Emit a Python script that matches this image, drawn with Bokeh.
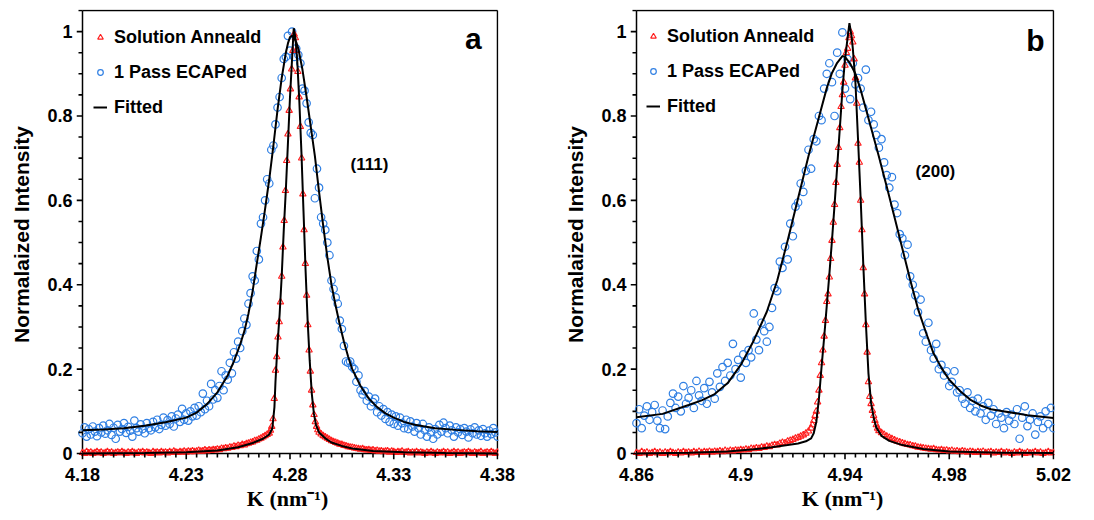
from bokeh.plotting import figure
from bokeh.layouts import row
from bokeh.models import FixedTicker, Legend, LegendItem, Label, Range1d
from bokeh.embed import file_html
from bokeh.resources import INLINE

# ---------------- Panel a : (111) ----------------
a_red_x = [4.180, 4.181, 4.182, 4.183, 4.184, 4.185, 4.186, 4.187, 4.188, 4.189,
           4.190, 4.191, 4.192, 4.193, 4.194, 4.195, 4.196, 4.197, 4.198, 4.199,
           4.200, 4.201, 4.202, 4.203, 4.204, 4.205, 4.206, 4.207, 4.208, 4.209,
           4.210, 4.211, 4.212, 4.213, 4.214, 4.215, 4.216, 4.217, 4.218, 4.219,
           4.220, 4.221, 4.222, 4.223, 4.224, 4.225, 4.226, 4.227, 4.228, 4.229,
           4.230, 4.231, 4.232, 4.233, 4.234, 4.235, 4.236, 4.237, 4.238, 4.239,
           4.240, 4.241, 4.242, 4.243, 4.244, 4.245, 4.246, 4.247, 4.248, 4.249,
           4.250, 4.251, 4.252, 4.253, 4.254, 4.255, 4.256, 4.257, 4.258, 4.259,
           4.260, 4.261, 4.262, 4.263, 4.264, 4.265, 4.266, 4.267, 4.268, 4.269,
           4.2700, 4.2706, 4.2712, 4.2718, 4.2724, 4.2730, 4.2736, 4.2742, 4.2748, 4.2754,
           4.2760, 4.2766, 4.2772, 4.2778, 4.2784, 4.2790, 4.2796, 4.2802, 4.2808, 4.2814,
           4.2820, 4.2826, 4.2832, 4.2838, 4.2844, 4.2850, 4.2856, 4.2862, 4.2868, 4.2874,
           4.2880, 4.2886, 4.2892, 4.2898, 4.2904, 4.2910, 4.2916, 4.2922, 4.2928, 4.2934,
           4.294, 4.295, 4.296, 4.297, 4.298, 4.299, 4.300, 4.301, 4.302, 4.303,
           4.304, 4.305, 4.306, 4.307, 4.308, 4.309, 4.310, 4.311, 4.312, 4.313,
           4.314, 4.315, 4.316, 4.317, 4.318, 4.319, 4.320, 4.321, 4.322, 4.323,
           4.324, 4.325, 4.326, 4.327, 4.328, 4.329, 4.330, 4.331, 4.332, 4.333,
           4.334, 4.335, 4.336, 4.337, 4.338, 4.339, 4.340, 4.341, 4.342, 4.343,
           4.344, 4.345, 4.346, 4.347, 4.348, 4.349, 4.350, 4.351, 4.352, 4.353,
           4.354, 4.355, 4.356, 4.357, 4.358, 4.359, 4.360, 4.361, 4.362, 4.363,
           4.364, 4.365, 4.366, 4.367, 4.368, 4.369, 4.370, 4.371, 4.372, 4.373,
           4.374, 4.375, 4.376, 4.377, 4.378, 4.379, 4.380]
a_red_y = [0.002, 0.000, 0.004, 0.001, 0.003, 0.000, 0.002, 0.004, 0.001, 0.003,
           0.000, 0.002, 0.004, 0.001, 0.003, 0.000, 0.002, 0.003, 0.001, 0.004,
           0.002, 0.000, 0.003, 0.001, 0.004, 0.002, 0.000, 0.003, 0.002, 0.004,
           0.001, 0.003, 0.002, 0.000, 0.004, 0.002, 0.003, 0.001, 0.004, 0.002,
           0.003, 0.001, 0.004, 0.002, 0.005, 0.003, 0.002, 0.004, 0.003, 0.005,
           0.003, 0.005, 0.004, 0.006, 0.004, 0.005, 0.007, 0.005, 0.006, 0.008,
           0.006, 0.008, 0.007, 0.009, 0.008, 0.010, 0.009, 0.012, 0.011, 0.013,
           0.012, 0.015, 0.014, 0.017, 0.016, 0.019, 0.018, 0.021, 0.020, 0.023,
           0.024, 0.026, 0.027, 0.030, 0.031, 0.034, 0.036, 0.039, 0.042, 0.045,
           0.048, 0.055, 0.064, 0.082, 0.130, 0.197, 0.229, 0.276, 0.312, 0.359,
           0.420, 0.489, 0.552, 0.623, 0.694, 0.757, 0.813, 0.864, 0.911, 0.955,
           0.994, 0.985, 0.955, 0.905, 0.845, 0.775, 0.700, 0.615, 0.530, 0.450,
           0.375, 0.305, 0.245, 0.195, 0.150, 0.115, 0.092, 0.075, 0.064, 0.056,
           0.050, 0.046, 0.042, 0.039, 0.036, 0.033, 0.030, 0.028, 0.026, 0.024,
           0.022, 0.021, 0.019, 0.018, 0.016, 0.015, 0.014, 0.013, 0.012, 0.011,
           0.010, 0.011, 0.009, 0.008, 0.009, 0.007, 0.008, 0.006, 0.007, 0.005,
           0.006, 0.004, 0.005, 0.006, 0.003, 0.005, 0.004, 0.002, 0.004, 0.003,
           0.005, 0.002, 0.003, 0.004, 0.001, 0.003, 0.002, 0.004, 0.001, 0.003,
           0.002, 0.000, 0.003, 0.001, 0.004, 0.002, 0.000, 0.003, 0.001, 0.002,
           0.004, 0.001, 0.003, 0.000, 0.002, 0.004, 0.001, 0.003, 0.000, 0.002,
           0.003, 0.001, 0.004, 0.002, 0.000, 0.003, 0.001, 0.002, 0.004, 0.000,
           0.002, 0.003, 0.001, 0.004, 0.002, 0.000, 0.003]

a_blue_x = [4.180, 4.181, 4.182, 4.183, 4.184, 4.185, 4.186, 4.187, 4.188, 4.189,
            4.190, 4.191, 4.192, 4.193, 4.194, 4.195, 4.196, 4.197, 4.198, 4.199,
            4.200, 4.201, 4.202, 4.203, 4.204, 4.205, 4.206, 4.207, 4.208, 4.209,
            4.210, 4.211, 4.212, 4.213, 4.214, 4.215, 4.216, 4.217, 4.218, 4.219,
            4.220, 4.221, 4.222, 4.223, 4.224, 4.225, 4.226, 4.227, 4.228, 4.229,
            4.230, 4.231, 4.232, 4.233, 4.234, 4.235, 4.236, 4.237, 4.238, 4.239,
            4.240, 4.241, 4.242, 4.243, 4.244, 4.245, 4.246, 4.247, 4.248, 4.249,
            4.250, 4.251, 4.252, 4.253, 4.254, 4.255, 4.256, 4.257, 4.258, 4.259,
            4.260, 4.261, 4.262, 4.263, 4.264, 4.265, 4.266, 4.267, 4.268, 4.269,
            4.270, 4.271, 4.272, 4.273, 4.274, 4.275, 4.276, 4.277, 4.278, 4.279,
            4.280, 4.281, 4.282, 4.283, 4.284, 4.285, 4.286, 4.287, 4.288, 4.289,
            4.290, 4.291, 4.292, 4.293, 4.294, 4.295, 4.296, 4.297, 4.298, 4.299,
            4.300, 4.301, 4.302, 4.303, 4.304, 4.305, 4.306, 4.307, 4.308, 4.309,
            4.310, 4.311, 4.312, 4.313, 4.314, 4.315, 4.316, 4.317, 4.318, 4.319,
            4.320, 4.321, 4.322, 4.323, 4.324, 4.325, 4.326, 4.327, 4.328, 4.329,
            4.330, 4.331, 4.332, 4.333, 4.334, 4.335, 4.336, 4.337, 4.338, 4.339,
            4.340, 4.341, 4.342, 4.343, 4.344, 4.345, 4.346, 4.347, 4.348, 4.349,
            4.350, 4.351, 4.352, 4.353, 4.354, 4.355, 4.356, 4.357, 4.358, 4.359,
            4.360, 4.361, 4.362, 4.363, 4.364, 4.365, 4.366, 4.367, 4.368, 4.369,
            4.370, 4.371, 4.372, 4.373, 4.374, 4.375, 4.376, 4.377, 4.378, 4.379,
            4.380]
a_blue_y = [0.048, 0.062, 0.040, 0.058, 0.045, 0.064, 0.052, 0.041, 0.060, 0.050,
            0.066, 0.047, 0.055, 0.070, 0.044, 0.061, 0.035, 0.068, 0.052, 0.058,
            0.072, 0.049, 0.063, 0.054, 0.040, 0.078, 0.060, 0.052, 0.069, 0.058,
            0.048, 0.072, 0.060, 0.055, 0.075, 0.062, 0.080, 0.058, 0.068, 0.085,
            0.066, 0.079, 0.070, 0.088, 0.064, 0.083, 0.092, 0.075, 0.106, 0.080,
            0.095, 0.078, 0.100, 0.088, 0.108, 0.090, 0.112, 0.098, 0.142, 0.105,
            0.125, 0.112, 0.165, 0.128, 0.150, 0.132, 0.160, 0.195, 0.150, 0.185,
            0.175, 0.215, 0.190, 0.240, 0.225, 0.265, 0.250, 0.290, 0.320, 0.305,
            0.355, 0.380, 0.420, 0.410, 0.480, 0.460, 0.545, 0.560, 0.600, 0.650,
            0.640, 0.720, 0.730, 0.780, 0.820, 0.845, 0.890, 0.935, 0.940, 0.990,
            0.955, 1.000, 0.940, 0.960, 0.945, 0.925, 0.865, 0.860, 0.830, 0.785,
            0.760, 0.755, 0.605, 0.675, 0.630, 0.560, 0.545, 0.530, 0.500, 0.470,
            0.410, 0.390, 0.370, 0.355, 0.315, 0.295, 0.255, 0.218, 0.215, 0.218,
            0.205, 0.200, 0.170, 0.185, 0.150, 0.140, 0.148, 0.125, 0.135, 0.112,
            0.122, 0.130, 0.098, 0.112, 0.090, 0.105, 0.082, 0.098, 0.075, 0.092,
            0.070, 0.088, 0.066, 0.085, 0.072, 0.060, 0.080, 0.058, 0.076, 0.064,
            0.052, 0.072, 0.060, 0.045, 0.070, 0.055, 0.040, 0.062, 0.050, 0.035,
            0.058, 0.045, 0.068, 0.052, 0.073, 0.060, 0.048, 0.066, 0.055, 0.040,
            0.062, 0.050, 0.058, 0.044, 0.060, 0.052, 0.038, 0.057, 0.048, 0.062,
            0.045, 0.055, 0.042, 0.058, 0.048, 0.040, 0.054, 0.046, 0.060, 0.050,
            0.040]

a_fit_red_x = [4.180, 4.210, 4.230, 4.245, 4.255, 4.262, 4.267, 4.270, 4.2715, 4.2725,
               4.273, 4.274, 4.275, 4.276, 4.277, 4.278, 4.279, 4.280, 4.281, 4.2818,
               4.2826, 4.2835, 4.2845, 4.2855, 4.2865, 4.2875, 4.2885, 4.2895, 4.2905, 4.2915,
               4.2925, 4.294, 4.297, 4.300, 4.305, 4.310, 4.320, 4.335, 4.355, 4.380]
a_fit_red_y = [0.000, 0.001, 0.003, 0.007, 0.015, 0.025, 0.035, 0.045, 0.060, 0.110,
               0.170, 0.260, 0.330, 0.420, 0.530, 0.625, 0.735, 0.845, 0.935, 1.008,
               0.985, 0.930, 0.835, 0.715, 0.575, 0.435, 0.315, 0.220, 0.142, 0.095,
               0.068, 0.050, 0.036, 0.026, 0.018, 0.012, 0.006, 0.003, 0.001, 0.000]

a_fit_blue_x = [4.180, 4.190, 4.200, 4.210, 4.220, 4.230, 4.235, 4.240, 4.245, 4.250,
                4.253, 4.256, 4.258, 4.260, 4.262, 4.264, 4.266, 4.268, 4.270, 4.272,
                4.274, 4.276, 4.277, 4.278, 4.279, 4.280, 4.281, 4.282, 4.283, 4.284,
                4.286, 4.288, 4.290, 4.292, 4.294, 4.296, 4.298, 4.300, 4.302, 4.304,
                4.306, 4.308, 4.310, 4.314, 4.318, 4.322, 4.326, 4.330, 4.335, 4.340,
                4.350, 4.360, 4.370, 4.380]
a_fit_blue_y = [0.055, 0.057, 0.060, 0.066, 0.074, 0.085, 0.097, 0.117, 0.145, 0.185,
                0.219, 0.259, 0.290, 0.332, 0.385, 0.450, 0.513, 0.580, 0.650, 0.730,
                0.815, 0.890, 0.920, 0.950, 0.972, 0.987, 0.990, 0.985, 0.975, 0.960,
                0.910, 0.845, 0.775, 0.705, 0.620, 0.540, 0.465, 0.400, 0.350, 0.305,
                0.265, 0.230, 0.200, 0.160, 0.130, 0.110, 0.095, 0.085, 0.075, 0.068,
                0.060, 0.056, 0.053, 0.051]

a_xticks = [4.18, 4.23, 4.28, 4.33, 4.38]
a_xlabels = ["4.18", "4.23", "4.28", "4.33", "4.38"]

# ---------------- Panel b : (200) ----------------
b_red_x = [4.860, 4.861, 4.862, 4.863, 4.864, 4.865, 4.866, 4.867, 4.868, 4.869,
           4.870, 4.871, 4.872, 4.873, 4.874, 4.875, 4.876, 4.877, 4.878, 4.879,
           4.880, 4.881, 4.882, 4.883, 4.884, 4.885, 4.886, 4.887, 4.888, 4.889,
           4.890, 4.891, 4.892, 4.893, 4.894, 4.895, 4.896, 4.897, 4.898, 4.899,
           4.900, 4.901, 4.902, 4.903, 4.904, 4.905, 4.906, 4.907, 4.908, 4.909,
           4.910, 4.911, 4.912, 4.913, 4.914, 4.915, 4.916, 4.917, 4.918, 4.919,
           4.920, 4.921, 4.922, 4.923, 4.924, 4.925, 4.926,
           4.9270, 4.9275, 4.9280, 4.9285, 4.9290, 4.9295, 4.9300, 4.9305, 4.9310, 4.9315,
           4.9320, 4.9325, 4.9330, 4.9335, 4.9340, 4.9345, 4.9350, 4.9355, 4.9360, 4.9365,
           4.9370, 4.9375, 4.9380, 4.9385, 4.9390, 4.9395, 4.9400, 4.9405, 4.9410, 4.9415,
           4.9420, 4.9425, 4.9430, 4.9435, 4.9440, 4.9445, 4.9450, 4.9455, 4.9460, 4.9465,
           4.9470, 4.9475, 4.9480, 4.9485, 4.9490, 4.9495, 4.9500, 4.9505, 4.9510, 4.9515,
           4.9520, 4.9525, 4.9530,
           4.954, 4.955, 4.956, 4.957, 4.958, 4.959, 4.960, 4.961, 4.962, 4.963,
           4.964, 4.965, 4.966, 4.967, 4.968, 4.969, 4.970, 4.971, 4.972, 4.973,
           4.974, 4.975, 4.976, 4.977, 4.978, 4.979, 4.980, 4.981, 4.982, 4.983,
           4.984, 4.985, 4.986, 4.987, 4.988, 4.989, 4.990, 4.991, 4.992, 4.993,
           4.994, 4.995, 4.996, 4.997, 4.998, 4.999, 5.000, 5.001, 5.002, 5.003,
           5.004, 5.005, 5.006, 5.007, 5.008, 5.009, 5.010, 5.011, 5.012, 5.013,
           5.014, 5.015, 5.016, 5.017, 5.018, 5.019, 5.020]
b_red_y = [0.002, 0.000, 0.004, 0.001, 0.003, 0.000, 0.002, 0.004, 0.001, 0.003,
           0.000, 0.003, 0.001, 0.004, 0.002, 0.000, 0.003, 0.001, 0.004, 0.002,
           0.003, 0.001, 0.004, 0.002, 0.005, 0.002, 0.004, 0.003, 0.005, 0.003,
           0.005, 0.004, 0.006, 0.004, 0.007, 0.005, 0.007, 0.006, 0.008, 0.007,
           0.009, 0.008, 0.010, 0.009, 0.012, 0.011, 0.013, 0.012, 0.015, 0.014,
           0.017, 0.016, 0.019, 0.021, 0.020, 0.024, 0.026, 0.025, 0.029, 0.031,
           0.033, 0.036, 0.038, 0.041, 0.044, 0.048, 0.053,
           0.060, 0.068, 0.078, 0.090, 0.100, 0.122, 0.150, 0.185, 0.215, 0.245,
           0.278, 0.315, 0.360, 0.378, 0.418, 0.462, 0.505, 0.548, 0.590, 0.642,
           0.685, 0.725, 0.772, 0.822, 0.850, 0.880, 0.920, 0.950, 0.960, 0.985,
           1.000, 0.990, 0.975, 0.935, 0.890, 0.830, 0.735, 0.690, 0.600, 0.530,
           0.440, 0.378, 0.305, 0.240, 0.170, 0.135, 0.118, 0.102, 0.090, 0.078,
           0.068, 0.060, 0.054,
           0.049, 0.045, 0.041, 0.038, 0.035, 0.032, 0.029, 0.027, 0.025, 0.023,
           0.021, 0.020, 0.018, 0.017, 0.015, 0.014, 0.013, 0.012, 0.011, 0.010,
           0.011, 0.009, 0.008, 0.009, 0.007, 0.008, 0.006, 0.007, 0.005, 0.006,
           0.004, 0.006, 0.005, 0.003, 0.005, 0.004, 0.002, 0.004, 0.003, 0.005,
           0.002, 0.003, 0.004, 0.001, 0.003, 0.002, 0.004, 0.001, 0.003, 0.002,
           0.000, 0.003, 0.001, 0.004, 0.002, 0.000, 0.003, 0.001, 0.002, 0.004,
           0.001, 0.003, 0.000, 0.002, 0.004, 0.001, 0.002]

b_blue_x = [4.860, 4.861, 4.862, 4.863, 4.864, 4.865, 4.866, 4.867, 4.868, 4.869,
            4.870, 4.871, 4.872, 4.873, 4.874, 4.875, 4.876, 4.877, 4.878, 4.879,
            4.880, 4.881, 4.882, 4.883, 4.884, 4.885, 4.886, 4.887, 4.888, 4.889,
            4.890, 4.891, 4.892, 4.893, 4.894, 4.895, 4.896, 4.897, 4.898, 4.899,
            4.900, 4.901, 4.902, 4.903, 4.904, 4.905, 4.906, 4.907, 4.908, 4.909,
            4.910, 4.911, 4.912, 4.913, 4.914, 4.915, 4.916, 4.917, 4.918, 4.919,
            4.920, 4.921, 4.922, 4.923, 4.924, 4.925, 4.926, 4.927, 4.928, 4.929,
            4.930, 4.931, 4.932, 4.933, 4.934, 4.935, 4.936, 4.937, 4.938, 4.939,
            4.940, 4.941, 4.942, 4.943, 4.944, 4.945, 4.946, 4.947, 4.948, 4.949,
            4.950, 4.951, 4.952, 4.953, 4.954, 4.955, 4.956, 4.957, 4.958, 4.959,
            4.960, 4.961, 4.962, 4.963, 4.964, 4.965, 4.966, 4.967, 4.968, 4.969,
            4.970, 4.971, 4.972, 4.973, 4.974, 4.975, 4.976, 4.977, 4.978, 4.979,
            4.980, 4.981, 4.982, 4.983, 4.984, 4.985, 4.986, 4.987, 4.988, 4.989,
            4.990, 4.991, 4.992, 4.993, 4.994, 4.995, 4.996, 4.997, 4.998, 4.999,
            5.000, 5.001, 5.002, 5.003, 5.004, 5.005, 5.006, 5.007, 5.008, 5.009,
            5.010, 5.011, 5.012, 5.013, 5.014, 5.015, 5.016, 5.017, 5.018, 5.019,
            5.020]
b_blue_y = [0.072, 0.105, 0.060, 0.090, 0.112, 0.080, 0.098, 0.115, 0.078, 0.060,
            0.102, 0.058, 0.088, 0.120, 0.142, 0.108, 0.135, 0.100, 0.160, 0.118,
            0.132, 0.150, 0.108, 0.172, 0.138, 0.125, 0.155, 0.118, 0.170, 0.145,
            0.130, 0.190, 0.158, 0.205, 0.172, 0.215, 0.185, 0.260, 0.200, 0.222,
            0.180, 0.235, 0.215, 0.245, 0.228, 0.332, 0.270, 0.245, 0.310, 0.290,
            0.265, 0.300, 0.345, 0.392, 0.385, 0.455, 0.440, 0.490, 0.460, 0.545,
            0.515, 0.585, 0.595, 0.640, 0.620, 0.670, 0.720, 0.675, 0.745, 0.740,
            0.800, 0.790, 0.865, 0.900, 0.925, 0.880, 0.800, 0.950, 0.900, 0.998,
            0.865, 0.935, 0.840, 0.925, 0.875, 0.890, 0.865, 0.820, 0.910, 0.790,
            0.810, 0.780, 0.755, 0.725, 0.745, 0.690, 0.660, 0.630, 0.655, 0.590,
            0.570, 0.520, 0.510, 0.470, 0.495, 0.420, 0.400, 0.375, 0.335, 0.365,
            0.285, 0.265, 0.310, 0.245, 0.225, 0.260, 0.200, 0.210, 0.185, 0.195,
            0.160, 0.170, 0.195, 0.145, 0.150, 0.130, 0.118, 0.145, 0.108, 0.125,
            0.100, 0.130, 0.095, 0.112, 0.080, 0.120, 0.090, 0.105, 0.070, 0.095,
            0.085, 0.060, 0.098, 0.078, 0.092, 0.070, 0.105, 0.035, 0.085, 0.112,
            0.065, 0.080, 0.095, 0.045, 0.075, 0.088, 0.060, 0.100, 0.070, 0.108,
            0.060]

b_fit_red_x = [4.860, 4.880, 4.895, 4.905, 4.912, 4.918, 4.922, 4.925, 4.927, 4.928,
               4.929, 4.930, 4.931, 4.932, 4.933, 4.934, 4.935, 4.936, 4.937, 4.938,
               4.939, 4.940, 4.941, 4.9417, 4.9425, 4.943, 4.944, 4.945, 4.946, 4.947,
               4.948, 4.949, 4.950, 4.951, 4.952, 4.954, 4.957, 4.962, 4.970, 4.980,
               5.000, 5.020]
b_fit_red_y = [0.000, 0.002, 0.005, 0.010, 0.015, 0.020, 0.024, 0.029, 0.036, 0.048,
               0.075, 0.130, 0.205, 0.275, 0.350, 0.425, 0.505, 0.590, 0.680, 0.770,
               0.860, 0.935, 0.985, 1.020, 0.990, 0.960, 0.880, 0.745, 0.605, 0.450,
               0.310, 0.190, 0.120, 0.085, 0.062, 0.042, 0.030, 0.020, 0.011, 0.005,
               0.002, 0.001]

b_fit_blue_x = [4.860, 4.870, 4.880, 4.885, 4.890, 4.895, 4.900, 4.905, 4.910, 4.914,
                4.918, 4.922, 4.926, 4.930, 4.933, 4.935, 4.937, 4.939, 4.940, 4.942,
                4.944, 4.946, 4.948, 4.950, 4.953, 4.956, 4.959, 4.962, 4.965, 4.968,
                4.971, 4.974, 4.977, 4.980, 4.984, 4.988, 4.992, 4.996, 5.000, 5.010,
                5.020]
b_fit_blue_y = [0.086, 0.094, 0.115, 0.126, 0.141, 0.167, 0.210, 0.268, 0.336, 0.410,
                0.505, 0.605, 0.705, 0.797, 0.866, 0.902, 0.926, 0.942, 0.940, 0.924,
                0.900, 0.862, 0.817, 0.772, 0.704, 0.633, 0.560, 0.486, 0.412, 0.343,
                0.288, 0.237, 0.203, 0.175, 0.149, 0.128, 0.114, 0.105, 0.101, 0.091,
                0.084]

b_xticks = [4.86, 4.90, 4.94, 4.98, 5.02]
b_xlabels = ["4.86", "4.9", "4.94", "4.98", "5.02"]

y_ticks = [0.0, 0.2, 0.4, 0.6, 0.8, 1.0]
y_labels = ["0", "0.2", "0.4", "0.6", "0.8", "1"]

legend_labels = ["Solution Anneald", "1 Pass ECAPed", "Fitted"]

RED = "#ff1e1e"
BLUE = "#2f7fe3"
SANS = "Liberation Sans"
SERIF = "Liberation Serif"
Y_TOP = 1.05
MAJOR_LEN = 6
MINOR_LEN = 4
EXT_LB = 6   # frame extension (px) on left/bottom to host outward tick marks
EXT_TR = 1   # frame extension (px) on top/right so the box edge is not clipped


def make_panel(xr, red_x, red_y, blue_x, blue_y, fr_x, fr_y, fb_x, fb_y,
               xticks, xlabels, xminor_step, box_px, letter, letter_xy,
               hkl, hkl_xy, leg_margin):
    W, H = 547, 520
    bl, br, bt, bb = box_px            # plot box edges in canvas pixels
    dxpp = (xr[1] - xr[0]) / (br - bl)  # data units per pixel
    dypp = Y_TOP / (bb - bt)
    x_range = Range1d(xr[0] - EXT_LB * dxpp, xr[1] + EXT_TR * dxpp)
    y_range = Range1d(-EXT_LB * dypp, Y_TOP + EXT_TR * dypp)
    p = figure(width=W, height=H, x_range=x_range, y_range=y_range,
               output_backend="svg", toolbar_location=None,
               min_border_left=bl - EXT_LB, min_border_right=W - (br + EXT_TR),
               min_border_top=bt - EXT_TR, min_border_bottom=H - (bb + EXT_LB))
    p.xgrid.visible = False
    p.ygrid.visible = False
    p.background_fill_color = "white"
    p.border_fill_color = "white"
    p.outline_line_alpha = 0

    n_minor = int(round((xr[1] - xr[0]) / xminor_step))
    xminor = [round(xr[0] + i * xminor_step, 4) for i in range(n_minor + 1)]
    yminor = [round(i * 0.05, 2) for i in range(22)]
    p.xaxis.ticker = FixedTicker(ticks=xticks)
    p.yaxis.ticker = FixedTicker(ticks=y_ticks)
    p.xaxis.major_label_overrides = {t: s for t, s in zip(xticks, xlabels)}
    p.yaxis.major_label_overrides = {t: s for t, s in zip(y_ticks, y_labels)}

    for ax in (p.xaxis, p.yaxis):
        ax.axis_line_alpha = 0
        ax.major_tick_line_alpha = 0
        ax.minor_tick_line_alpha = 0
        ax.major_tick_in = 0
        ax.minor_tick_in = 0
        ax.major_tick_out = 0
        ax.minor_tick_out = 0
        ax.major_label_text_font = SANS
        ax.major_label_text_font_style = "bold"
        ax.major_label_text_font_size = "18px"
        ax.major_label_text_color = "black"
        ax.axis_label_text_color = "black"
    p.xaxis.major_label_standoff = 8
    p.yaxis.major_label_standoff = 4

    p.xaxis.axis_label = "K (nm\u207b\u00b9)"
    p.xaxis.axis_label_text_font = SERIF
    p.xaxis.axis_label_text_font_style = "bold"
    p.xaxis.axis_label_text_font_size = "22px"
    p.xaxis.axis_label_standoff = 2

    p.yaxis.axis_label = "Normalaized Intensity"
    p.yaxis.axis_label_text_font = SANS
    p.yaxis.axis_label_text_font_style = "bold"
    p.yaxis.axis_label_text_font_size = "21px"
    p.yaxis.axis_label_standoff = 11

    # plot box (axis lines + top/right border)
    p.segment(x0=[xr[0], xr[0], xr[0], xr[1]], y0=[0.0, Y_TOP, 0.0, 0.0],
              x1=[xr[1], xr[1], xr[0], xr[1]], y1=[0.0, Y_TOP, Y_TOP, Y_TOP],
              line_color="black", line_width=1.5)

    r_blue = p.scatter(blue_x, blue_y, marker="circle", size=7.5,
                       line_color=BLUE, line_width=1.2, fill_color=None)
    r_red = p.scatter(red_x, red_y, marker="triangle", size=6.5,
                      line_color=RED, line_width=1.1, fill_color=None)
    r_fb = p.line(fb_x, fb_y, line_color="black", line_width=2)
    r_fr = p.line(fr_x, fr_y, line_color="black", line_width=2)

    # outward tick marks
    tx0, ty0, tx1, ty1 = [], [], [], []
    for t in xminor:
        is_major = min(abs(t - m) for m in xticks) < 1e-6
        L = MAJOR_LEN if is_major else MINOR_LEN
        tx0.append(t); tx1.append(t); ty0.append(0.0); ty1.append(-L * dypp)
    for t in yminor:
        if t > Y_TOP + 1e-9:
            continue
        is_major = min(abs(t - m) for m in y_ticks) < 1e-6
        L = MAJOR_LEN if is_major else MINOR_LEN
        tx0.append(xr[0]); tx1.append(xr[0] - L * dxpp); ty0.append(t); ty1.append(t)
    p.segment(x0=tx0, y0=ty0, x1=tx1, y1=ty1, line_color="black", line_width=1.6)

    legend = Legend(items=[LegendItem(label=legend_labels[0], renderers=[r_red]),
                           LegendItem(label=legend_labels[1], renderers=[r_blue]),
                           LegendItem(label=legend_labels[2], renderers=[r_fr])],
                    location="top_left", margin=leg_margin, padding=10, spacing=13,
                    glyph_width=14, glyph_height=22, label_height=22,
                    label_standoff=7, label_text_font=SANS,
                    label_text_font_style="bold", label_text_font_size="18px",
                    label_text_color="black",
                    background_fill_alpha=0, border_line_alpha=0)
    p.add_layout(legend)

    p.add_layout(Label(x=letter_xy[0], y=letter_xy[1], text=letter,
                       text_font=SANS, text_font_style="bold",
                       text_font_size="30px", text_align="center",
                       text_baseline="alphabetic", text_color="black"))
    p.add_layout(Label(x=hkl_xy[0], y=hkl_xy[1], text=hkl,
                       text_font=SANS, text_font_style="bold",
                       text_font_size="17px", text_align="center",
                       text_baseline="alphabetic", text_color="black"))
    return p


pa = make_panel((4.18, 4.38), a_red_x, a_red_y, a_blue_x, a_blue_y,
                a_fit_red_x, a_fit_red_y, a_fit_blue_x, a_fit_blue_y,
                a_xticks, a_xlabels, 0.005, (82, 497, 10, 453),
                "a", (4.3684, 0.983), "(111)", (4.3183, 0.685), 7)
pb = make_panel((4.86, 5.02), b_red_x, b_red_y, b_blue_x, b_blue_y,
                b_fit_red_x, b_fit_red_y, b_fit_blue_x, b_fit_blue_y,
                b_xticks, b_xlabels, 0.004, (89, 506, 8, 454),
                "b", (5.0131, 0.979), "(200)", (4.9747, 0.668), 6)

layout = row(pa, pb)
open("out.html", "w").write(file_html(layout, INLINE))
